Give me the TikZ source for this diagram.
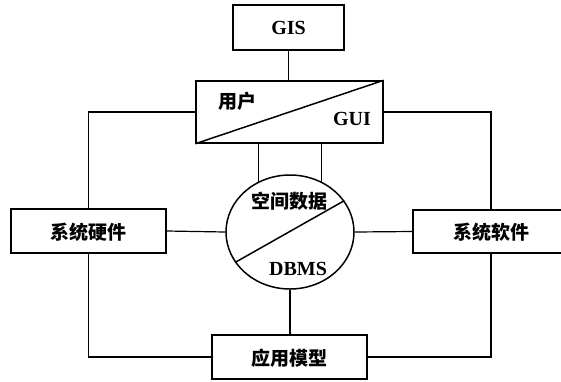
\documentclass[tikz,border=0pt]{standalone}
\usepackage{fontspec}
\setmainfont{Liberation Serif}
\newfontfamily\cjk{Noto Sans CJK SC}
\usetikzlibrary{shapes.geometric}
\begin{document}
\begin{tikzpicture}[x=1pt,y=-1pt,
  box/.style={draw,line width=1.5pt,rectangle,inner sep=0pt},
  conn/.style={line width=1.2pt},
  lat/.style={font=\fontsize{20}{20}\selectfont\bfseries,inner sep=0pt},
  han/.style={font=\fontsize{19}{19}\selectfont\cjk\bfseries,inner sep=0pt}]
\useasboundingbox (0,0) rectangle (561,381);
\node[box,minimum width=111pt,minimum height=45pt] (gis) at (288.5,27.5) {};
\node[lat] (gist) at (288.5,28) {GIS};
\node[box,minimum width=187pt,minimum height=62pt] (gui) at (289.5,112) {};
\node[han] (yh) at (237,101) {用户};
\node[lat] (guit) at (352,119) {GUI};
\node[box,minimum width=155pt,minimum height=44pt] (hw) at (88.5,231) {};
\node[han] (hwt) at (88.5,232) {系统硬件};
\node[box,minimum width=156pt,minimum height=43pt] (sw) at (491,231.5) {};
\node[han] (swt) at (491,232) {系统软件};
\node[box,minimum width=155pt,minimum height=44pt] (ying) at (289.5,357) {};
\node[han] (yingt) at (289.5,358) {应用模型};
\node[draw,line width=1.5pt,ellipse,minimum width=128pt,minimum height=114pt,inner sep=0pt] (db) at (290,232) {};
\node[han] (kj) at (289,201) {空间数据};
\node[lat] (dbms) at (298,269) {DBMS};
% diagonals
\draw[line width=1.5pt] (gui.south west) -- (gui.north east);
\draw[line width=1.5pt] (db.209) -- (db.30);
% connectors
\draw[conn] (gis.south) -- (gis.south |- gui.north);
\draw[conn] (gui.west) -| (hw.north);
\draw[conn] (gui.east) -| (sw.north);
\draw[conn] (db.122) -- (db.122 |- gui.south);
\draw[conn] (db.58) -- (db.58 |- gui.south);
\draw[conn] (hw.east) -- (db.west);
\draw[conn] (db.east) -- (sw.west);
\draw[conn] (db.south) -- (db.south |- ying.north);
\draw[conn] (hw.south) |- (ying.west);
\draw[conn] (ying.east) -| (sw.south);
\end{tikzpicture}
\end{document}
